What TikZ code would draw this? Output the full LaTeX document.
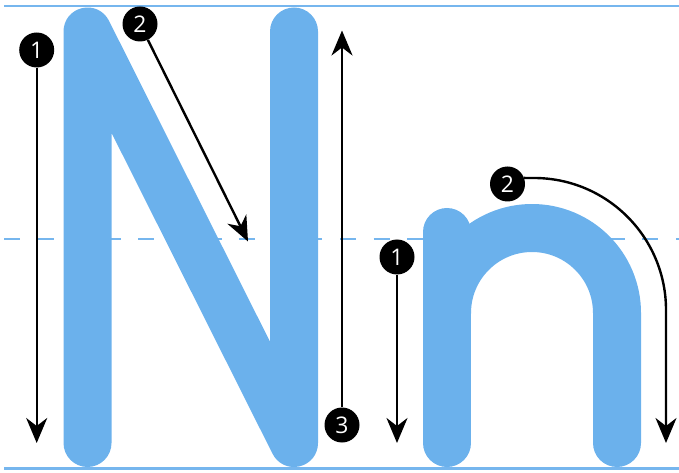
\documentclass[tikz,border=0pt]{standalone}
\usepackage{fontspec}
\setmainfont{Open Sans}
\usetikzlibrary{arrows.meta}
\definecolor{letterblue}{RGB}{107,177,236}
\definecolor{guideblue}{RGB}{118,182,238}
\tikzset{
  letter/.style={draw=letterblue, line width=48bp, line cap=round, line join=round},
  guide/.style={draw=guideblue, line width=2.6bp},
  midguide/.style={draw=guideblue, line width=2.2bp, dash pattern=on 16bp off 17.6bp},
  arr/.style={draw=black, line width=2.4bp, -{Stealth[length=25bp,width=21bp,inset=8bp]}},
  arrline/.style={draw=black, line width=2.4bp},
  num/.style={circle, fill=black, minimum size=35bp, inner sep=0pt, text=white, font=\fontsize{23}{23}\selectfont}
}
\begin{document}
\begin{tikzpicture}[x=1bp, y=-1bp]
\useasboundingbox (0,0) rectangle (679,473);
% guide lines
\draw[guide] (4,6) -- (679,6);
\draw[guide] (4,468.7) -- (679,468.7);
\draw[midguide] (4,239) -- (679,239);
% letter N
\draw[letter] (87.5,443) -- (87.5,31.5) -- (294,443) -- (294,31.5);
% letter n
\draw[letter] (447,232) -- (447,443);
\draw[letter] (447,313) arc[start angle=180, end angle=360, radius=85] -- (617,443);
% numbered markers
\node[num] (c1N) at (36.7,50) {1};
\node[num] (c2N) at (140,24) {2};
\node[num] (c3N) at (342,425) {3};
\node[num] (c1n) at (397,257) {1};
\node[num] (c2n) at (507.5,184) {2};
% arrow ends
\coordinate (t1N) at (36.7,443);
\coordinate (t2N) at (248,241.5);
\coordinate (t3N) at (342,30.5);
\coordinate (t1n) at (397,443);
\coordinate (a2n) at (534,178);
\coordinate (t2n) at (666,443);
% arrows
\draw[arr] (c1N) -- (t1N);
\draw[arr] (c2N) -- (t2N);
\draw[arr] (c3N) -- (t3N);
\draw[arr] (c1n) -- (t1n);
\draw[arr] (c2n.20) -- (a2n) arc[start angle=-90, end angle=0, radius=132] -- (t2n);
\end{tikzpicture}
\end{document}
